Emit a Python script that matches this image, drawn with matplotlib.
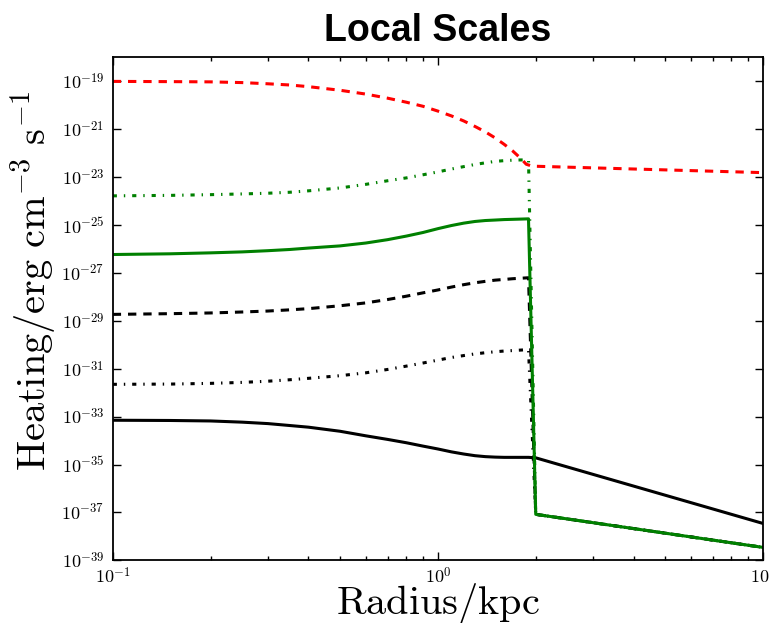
import numpy as np
import matplotlib
matplotlib.use("Agg")
import matplotlib.pyplot as plt
from matplotlib.ticker import FixedLocator, FixedFormatter, FuncFormatter, NullLocator, LogLocator

plt.rcParams['mathtext.fontset'] = 'cm'
plt.rcParams['lines.scale_dashes'] = False

# Radius grid (kpc)
r_inner = [0.1, 0.15, 0.2, 0.25, 0.3, 0.35, 0.4, 0.5, 0.6, 0.7, 0.8, 0.9, 1.0,
           1.1, 1.2, 1.3, 1.4, 1.5, 1.6, 1.7, 1.8, 1.9]
r_outer = [2.0, 10.0]

# log10 heating values (erg cm^-3 s^-1)
red_r = [0.1, 0.15, 0.2, 0.25, 0.3, 0.35, 0.4, 0.5, 0.6, 0.7, 0.8, 0.9, 1.0,
         1.1, 1.2, 1.3, 1.4, 1.5, 1.6, 1.7, 1.8, 1.87, 1.95, 10.0]
red_log = [-19.00, -19.01, -19.02, -19.05, -19.10, -19.15, -19.22, -19.37, -19.53,
           -19.70, -19.87, -20.04, -20.24, -20.44, -20.65, -20.88, -21.11, -21.36,
           -21.63, -21.91, -22.22, -22.46, -22.54, -22.81]

green_dd_log = [-23.78, -23.76, -23.73, -23.70, -23.67, -23.63, -23.57, -23.45, -23.30,
                -23.15, -23.03, -22.90, -22.78, -22.66, -22.56, -22.47, -22.40, -22.34,
                -22.31, -22.29, -22.28, -22.28]
green_solid_log = [-26.23, -26.20, -26.16, -26.12, -26.07, -26.02, -25.96, -25.87, -25.75,
                   -25.61, -25.46, -25.31, -25.15, -25.02, -24.92, -24.85, -24.81, -24.79,
                   -24.77, -24.76, -24.75, -24.74]
black_dash_log = [-28.73, -28.70, -28.67, -28.63, -28.59, -28.54, -28.49, -28.37, -28.25,
                  -28.11, -27.97, -27.83, -27.71, -27.59, -27.49, -27.41, -27.35, -27.30,
                  -27.27, -27.24, -27.22, -27.20]
black_dd_log = [-31.65, -31.64, -31.61, -31.57, -31.52, -31.46, -31.40, -31.29, -31.17,
                -31.03, -30.89, -30.76, -30.64, -30.53, -30.45, -30.38, -30.33, -30.29,
                -30.26, -30.24, -30.22, -30.20]
outer_common_log = [-37.08, -38.46]

black_solid_log = [-33.15, -33.16, -33.18, -33.23, -33.29, -33.37, -33.44, -33.61, -33.80,
                   -33.95, -34.09, -34.23, -34.35, -34.47, -34.56, -34.63, -34.67, -34.69,
                   -34.70, -34.70, -34.70, -34.70]
black_solid_outer_log = [-34.72, -37.46]

y_tick_exps = [-19, -21, -23, -25, -27, -29, -31, -33, -35, -37, -39]
x_tick_vals = [0.1, 1.0, 10.0]
x_tick_labels = [r'$10^{-1}$', r'$10^{0}$', r'$10^{1}$']

fig = plt.figure(figsize=(7.69, 6.23), dpi=100)
ax = fig.add_axes([0.1466, 0.1006, 0.8456, 0.8072])

r_all = r_inner + r_outer
lw = 2.2
dashdot = (0, (3, 5, 1, 5))
dashed = (0, (6, 5))
ax.plot(r_all, 10.0 ** np.array(black_solid_log + black_solid_outer_log), color='k', lw=lw)
ax.plot(r_all, 10.0 ** np.array(black_dd_log + outer_common_log), color='k', lw=lw,
        linestyle=dashdot)
ax.plot(r_all, 10.0 ** np.array(black_dash_log + outer_common_log), color='k', lw=lw,
        linestyle=dashed)
ax.plot(r_all, 10.0 ** np.array(green_dd_log + outer_common_log), color='g', lw=lw,
        linestyle=dashdot)
ax.plot(red_r, 10.0 ** np.array(red_log), color='r', lw=lw, linestyle=dashed)
ax.plot(r_all, 10.0 ** np.array(green_solid_log + outer_common_log), color='g', lw=lw)

ax.set_xscale('log')
ax.set_yscale('log')
ax.set_xlim(0.1, 10)
ax.set_ylim(1e-39, 1e-18)

ax.yaxis.set_major_locator(FixedLocator([10.0 ** e for e in y_tick_exps]))
ax.yaxis.set_major_formatter(FuncFormatter(lambda v, p: r'$10^{%d}$' % int(round(np.log10(v)))))
ax.yaxis.set_minor_locator(NullLocator())
ax.xaxis.set_major_locator(FixedLocator(x_tick_vals))
ax.xaxis.set_major_formatter(FixedFormatter(x_tick_labels))
ax.xaxis.set_minor_locator(LogLocator(base=10, subs=np.arange(2, 10)))
ax.xaxis.set_minor_formatter(FixedFormatter([]))

ax.tick_params(which='both', direction='in', top=True, right=True, labelsize=13)
ax.tick_params(which='major', length=5.5, width=1)
ax.tick_params(which='minor', length=3, width=1)
ax.tick_params(axis='x', pad=5)
ax.tick_params(axis='y', pad=6)
for s in ax.spines.values():
    s.set_linewidth(1.3)

ax.set_xlabel(r'$\mathrm{Radius/kpc}$', fontsize=29, labelpad=-5)
ax.set_ylabel(r'$\mathrm{Heating/erg\ cm^{-3}\ s^{-1}}$', fontsize=29)
ax.yaxis.set_label_coords(-0.083, 0.555)
ax.set_title('Local Scales', fontsize=27, fontweight='bold', family='Liberation Sans', pad=12)

fig.savefig('out.png', dpi=100)
